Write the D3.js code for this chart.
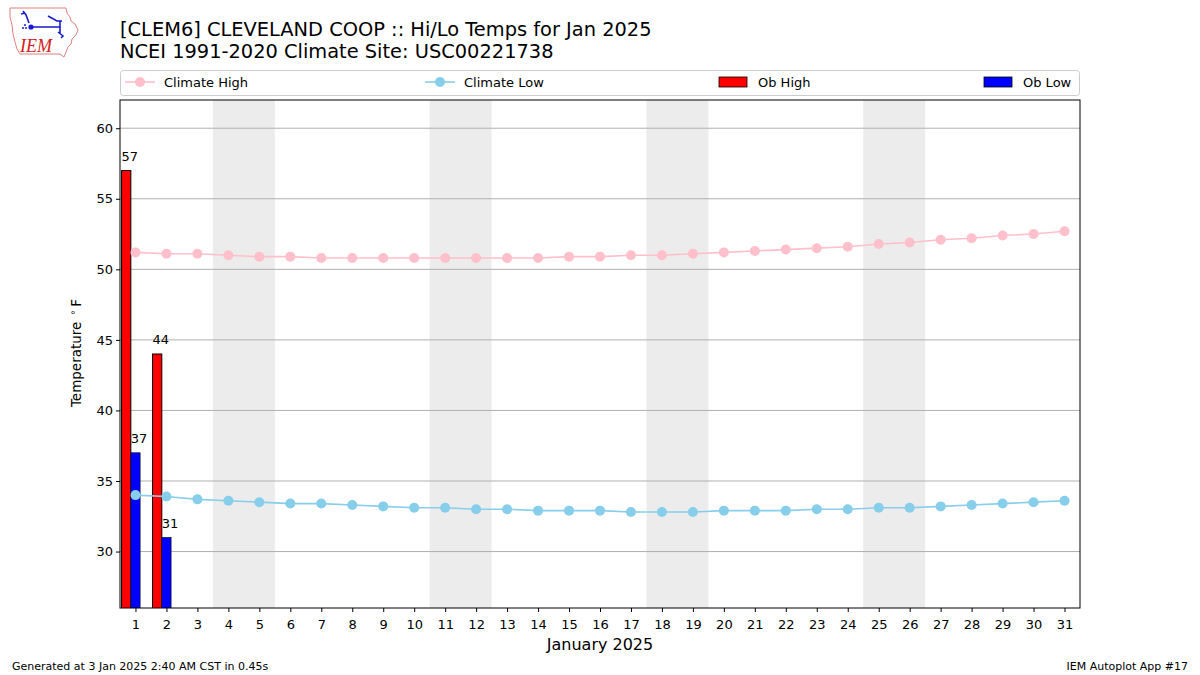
<!DOCTYPE html>
<html><head><meta charset="utf-8">
<script src="https://cdn.jsdelivr.net/npm/d3@7"></script>
<style>body{margin:0;background:#fff}svg{display:block;font-family:"DejaVu Sans",sans-serif}</style>
</head><body><svg id="c" width="1200" height="675"></svg>
<script>
const days = d3.range(1, 32);
const climateHigh = [51.2,51.1,51.1,51.0,50.9,50.9,50.8,50.8,50.8,50.8,50.8,50.8,50.8,50.8,50.9,50.9,51.0,51.0,51.1,51.2,51.3,51.4,51.5,51.6,51.8,51.9,52.1,52.2,52.4,52.5,52.7];
const climateLow = [34.0,33.9,33.7,33.6,33.5,33.4,33.4,33.3,33.2,33.1,33.1,33.0,33.0,32.9,32.9,32.9,32.8,32.8,32.8,32.9,32.9,32.9,33.0,33.0,33.1,33.1,33.2,33.3,33.4,33.5,33.6];
const obDays = [1, 2];
const obHigh = [57, 44];
const obLow = [37, 31];
const weekends = [[3.5,5.5],[10.5,12.5],[17.5,19.5],[24.5,26.5]];
const yTicks = [30,35,40,45,50,55,60];

const svg = d3.select("#c");
const L=120,R=1080,T=100,B=608;
const x = d3.scaleLinear().domain([0.5,31.5]).range([L,R]);
const y = d3.scaleLinear().domain([26,62]).range([B,T]);

// weekend shading
svg.selectAll("rect.wk").data(weekends).enter().append("rect")
  .attr("x",d=>x(d[0])).attr("width",d=>x(d[1])-x(d[0]))
  .attr("y",T).attr("height",B-T).attr("fill","#ececec");

// grid
svg.selectAll("line.g").data(yTicks).enter().append("line")
  .attr("x1",L).attr("x2",R).attr("y1",d=>y(d)).attr("y2",d=>y(d))
  .attr("stroke","#b0b0b0").attr("stroke-width",1);

svg.append("clipPath").attr("id","cp").append("rect").attr("x",L).attr("y",T).attr("width",R-L).attr("height",B-T);
const g = svg.append("g").attr("clip-path","url(#cp)");

// bars
const bw = 0.3;
g.selectAll("rect.hi").data(obDays).enter().append("rect")
  .attr("x",d=>x(d-0.45)).attr("width",x(bw)-x(0))
  .attr("y",(d,i)=>y(obHigh[i])).attr("height",(d,i)=>B-y(obHigh[i])+2)
  .attr("fill","#ff0000").attr("stroke","#000").attr("stroke-width",1);
g.selectAll("rect.lo").data(obDays).enter().append("rect")
  .attr("x",d=>x(d-0.15)).attr("width",x(bw)-x(0))
  .attr("y",(d,i)=>y(obLow[i])).attr("height",(d,i)=>B-y(obLow[i])+2)
  .attr("fill","#0000ff").attr("stroke","#000").attr("stroke-width",0.6);

// lines
const line = (arr)=>d3.line().x((d,i)=>x(days[i])).y(d=>y(d))(arr);
g.append("path").attr("d",line(climateHigh)).attr("fill","none").attr("stroke","#ffc0cb").attr("stroke-width",1.6);
g.selectAll("circle.h").data(climateHigh).enter().append("circle")
  .attr("cx",(d,i)=>x(days[i])).attr("cy",d=>y(d)).attr("r",5).attr("fill","#ffc0cb");
g.append("path").attr("d",line(climateLow)).attr("fill","none").attr("stroke","#87ceeb").attr("stroke-width",1.6);
g.selectAll("circle.l").data(climateLow).enter().append("circle")
  .attr("cx",(d,i)=>x(days[i])).attr("cy",d=>y(d)).attr("r",5).attr("fill","#87ceeb");

// bar labels
svg.selectAll("text.hl").data(obDays).enter().append("text")
  .attr("x",d=>x(d-0.45)).attr("y",(d,i)=>y(obHigh[i]+0.7))
  .attr("font-size",13).text((d,i)=>obHigh[i]);
svg.selectAll("text.ll").data(obDays).enter().append("text")
  .attr("x",d=>x(d-0.15)).attr("y",(d,i)=>y(obLow[i]+0.7))
  .attr("font-size",13).text((d,i)=>obLow[i]);

// axes
const ax = svg.append("g").attr("transform",`translate(0,${B})`)
  .call(d3.axisBottom(x).tickValues(days).tickFormat(d3.format("d")).tickSize(4).tickSizeOuter(0));
const ay = svg.append("g").attr("transform",`translate(${L},0)`)
  .call(d3.axisLeft(y).tickValues(yTicks).tickSize(4).tickSizeOuter(0));
[ax,ay].forEach(a=>{a.select(".domain").remove();a.selectAll("text").attr("font-size",13).attr("fill","#000").attr("font-family","DejaVu Sans");a.selectAll("line").attr("stroke","#000");});
ax.selectAll("text").attr("dy","1.05em");
svg.append("rect").attr("x",L).attr("y",T).attr("width",R-L).attr("height",B-T).attr("fill","none").attr("stroke","#000").attr("stroke-width",1);

// axis labels
svg.append("text").attr("x",(L+R)/2).attr("y",650).attr("text-anchor","middle").attr("font-size",16).text("January 2025");
const yl = svg.append("text").attr("transform",`translate(81,${(T+B)/2 - 1}) rotate(-90)`).attr("text-anchor","middle").attr("font-size",13.5);
yl.append("tspan").text("Temperature");
yl.append("tspan").attr("font-size",9.5).attr("dy",-5).attr("dx",6).text("∘");
yl.append("tspan").attr("dy",5).attr("dx",3).text("F");

// titles
svg.append("text").attr("x",120).attr("y",36).attr("font-size",19.4).text("[CLEM6] CLEVELAND COOP :: Hi/Lo Temps for Jan 2025");
svg.append("text").attr("x",120).attr("y",58).attr("font-size",19.4).text("NCEI 1991-2020 Climate Site: USC00221738");

// legend
const lg = svg.append("g");
lg.append("rect").attr("x",120.5).attr("y",70.5).attr("width",959).attr("height",25).attr("rx",3).attr("fill","#fff").attr("stroke","#cccccc");
const legItems = [
  {label:"Climate High", type:"line", color:"#ffc0cb", x:125},
  {label:"Climate Low", type:"line", color:"#87ceeb", x:425},
  {label:"Ob High", type:"bar", color:"#ff0000", x:719},
  {label:"Ob Low", type:"bar", color:"#0000ff", x:984}
];
legItems.forEach(it=>{
  if(it.type==="line"){
    lg.append("line").attr("x1",it.x).attr("x2",it.x+30).attr("y1",82).attr("y2",82).attr("stroke",it.color).attr("stroke-width",1.6);
    lg.append("circle").attr("cx",it.x+15).attr("cy",82).attr("r",5).attr("fill",it.color);
  } else {
    lg.append("rect").attr("x",it.x).attr("y",77).attr("width",28).attr("height",10).attr("fill",it.color).attr("stroke","#000").attr("stroke-width",0.8);
  }
  lg.append("text").attr("x",it.x+39).attr("y",87).attr("font-size",13).text(it.label);
});

// footer
svg.append("text").attr("x",12).attr("y",670).attr("font-size",11).text("Generated at 3 Jan 2025 2:40 AM CST in 0.45s");
svg.append("text").attr("x",1188).attr("y",670).attr("text-anchor","end").attr("font-size",11).text("IEM Autoplot App #17");

// logo (approximate Iowa outline with station symbol)
const logo = svg.append("g");
logo.append("path").attr("d","M10,8 L66,8 L67,13 L70,17 L71,21 L75,24 L78,30 L76,35 L72,39 L71,44 L68,47 L66,52 L64,57 L60,54 L20,54 L17,49 L15,42 L13,34 L12,25 L10,17 Z")
  .attr("fill","#fff").attr("stroke","#e08080").attr("stroke-width",1);
logo.append("path").attr("d","M31,27 L60,27 M60,21 L60,33 M48,16 L57,21 L62,21 M23,11 L26,15 L29,23 M21,14 L25,13 M58,32 L63,36 L61,38")
  .attr("stroke","#1a1ad0").attr("stroke-width",1.6).attr("fill","none");
logo.append("circle").attr("cx",31).attr("cy",27).attr("r",2.6).attr("fill","#1a1ad0");
logo.append("circle").attr("cx",23).attr("cy",28).attr("r",1).attr("fill","#1a1ad0");
logo.append("circle").attr("cx",26).attr("cy",28).attr("r",1).attr("fill","#1a1ad0");
logo.append("circle").attr("cx",25).attr("cy",25).attr("r",1).attr("fill","#1a1ad0");
logo.append("text").attr("x",20).attr("y",52).attr("font-family","Liberation Serif, serif").attr("font-style","italic").attr("font-size",18).attr("fill","#d02020").text("IEM");
</script></body></html>
